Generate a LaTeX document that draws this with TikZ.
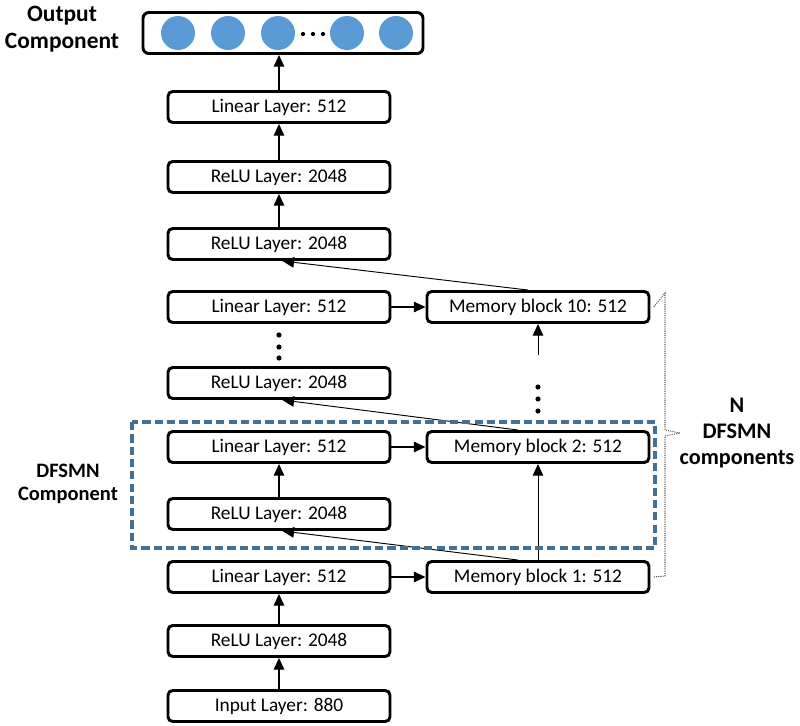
\documentclass[tikz,border=0pt]{standalone}
\usepackage{fontspec}
\setmainfont{Carlito}
\usetikzlibrary{arrows.meta}

\definecolor{dotblue}{RGB}{91,155,213}
\definecolor{frameblue}{RGB}{65,113,150}

\begin{document}
\begin{tikzpicture}[x=0.03cm,y=-0.03cm,
  every text node part/.style={align=center},
  layer/.style={draw,line width=2.5pt,rounded corners=4pt,minimum width=6.66cm,minimum height=0.93cm,inner sep=0pt,font=\fontsize{16.5}{19}\selectfont},
  lbl/.style={font=\bfseries\fontsize{18}{21}\selectfont},
  unit/.style={circle,fill=dotblue,minimum size=1.02cm,inner sep=0pt},
  skip/.style={->,line width=0.8pt},
  >={Triangle[length=10pt,width=9pt]}]

\useasboundingbox(0,0)rectangle(800,726);

% output component
\node[draw,line width=2.5pt,rounded corners=5pt,minimum width=8.4cm,minimum height=1.23cm](out)at(283,33){};
\node[unit](u1)at(178,33){};
\node[unit](u2)at(228,33){};
\node[unit](u3)at(278,33){};
\node[unit](u4)at(347,33){};
\node[unit](u5)at(396,33){};
\foreach \x in {303,313,323} \fill(\x,34)circle(1.8pt);
\node[lbl,font=\bfseries\fontsize{20}{23}\selectfont](outlbl)at(62,29){Output\\Component};

% left column
\node[layer](lintop)at(279,107){Linear Layer: 512};
\node[layer](relu5)at(279,177){ReLU Layer: 2048};
\node[layer](relu4)at(279,244){ReLU Layer: 2048};
\node[layer](lin10)at(279,307){Linear Layer: 512};
\node[layer](relu3)at(279,383){ReLU Layer: 2048};
\node[layer](lin2)at(279,447){Linear Layer: 512};
\node[layer](relu2)at(279,514){ReLU Layer: 2048};
\node[layer](lin1)at(279,577){Linear Layer: 512};
\node[layer](relu1)at(279,641){ReLU Layer: 2048};
\node[layer](in)at(279,706){Input Layer: 880};

% memory blocks
\node[layer](mem10)at(538,307){Memory block 10: 512};
\node[layer](mem2)at(538,447){Memory block 2: 512};
\node[layer](mem1)at(538,577){Memory block 1: 512};

% dots
\foreach \y in {335,347,358} \fill(279,\y)circle(2.2pt);
\foreach \y in {387,399,411} \fill(538,\y)circle(2.2pt);
\coordinate(m10in)at(538,355);

% forward arrows
\draw[->,line width=1pt](in.north)--(relu1.south);
\draw[->,line width=1pt](relu1.north)--(lin1.south);
\draw[->,line width=1pt](relu2.north)--(lin2.south);
\draw[->,line width=1pt](relu4.north)--(relu5.south);
\draw[->,line width=1pt](relu5.north)--(lintop.south);
\draw[->,line width=1pt](lintop.north)--(lintop.north|-out.south);

\draw[->,line width=1pt](lin1.east)--(mem1.west);
\draw[->,line width=1pt](lin2.east)--(mem2.west);
\draw[->,line width=1pt](lin10.east)--(mem10.west);

\draw[skip](mem1.north)--(mem2.south);
\draw[skip](m10in)--(mem10.south);

% skip connections
\draw[skip]([xshift=-0.6cm]mem1.north)--([xshift=0.1cm]relu2.south);
\draw[skip]([xshift=-0.6cm]mem2.north)--([xshift=0.1cm]relu3.south);
\draw[skip]([xshift=-0.3cm]mem10.north)--([xshift=0.1cm]relu4.south);

% DFSMN component frame
\draw[frameblue,line width=2.6pt,dash pattern=on 7pt off 3.5pt](132,422)rectangle(655,548);
\node[lbl,font=\bfseries\fontsize{17.5}{20}\selectfont](dfsmnlbl)at(68,484){DFSMN\\Component};

% brace
\draw[gray!70!black,densely dotted,line width=0.9pt]([xshift=0.1cm]mem10.east)--(665,293)--(665,430)--(680,433);
\draw[gray!70!black,densely dotted,line width=0.9pt]([xshift=0.1cm]mem1.east)--(665,576)--(665,436)--(680,433);
\node[lbl,font=\bfseries\fontsize{19}{22}\selectfont](nlbl)at(737,433){N\\DFSMN\\components};

\end{tikzpicture}
\end{document}
